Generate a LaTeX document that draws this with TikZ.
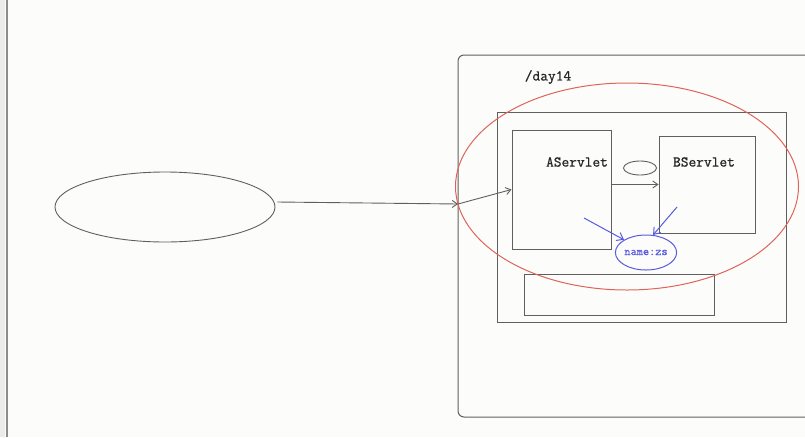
\documentclass[tikz,border=0pt]{standalone}
\usepackage{fontspec}
\newfontfamily\mytt{Latin Modern Mono}[FakeBold=0.8]
\usetikzlibrary{arrows.meta,shapes.geometric,calc}
\definecolor{bg}{RGB}{252,253,251}
\definecolor{ln}{RGB}{95,95,95}
\definecolor{redl}{RGB}{222,100,90}
\definecolor{bluel}{RGB}{90,90,225}
\begin{document}
\begin{tikzpicture}[x=1pt,y=-1pt,
  box/.style={draw=ln,line width=1pt,rectangle,inner sep=0pt},
  oval/.style={draw=ln,line width=0.9pt,ellipse,inner sep=0pt},
  lab/.style={font=\mytt\bfseries\fontsize{15}{15}\selectfont,text=black!85,inner sep=0pt},
  tip/.style={-{Straight Barb[length=5pt,width=7pt]}},
  conn/.style={draw=ln,line width=0.9pt,tip}]
\useasboundingbox (0,0) rectangle (805,437);
\fill[bg] (0,0) rectangle (805,437);
\fill[black!8] (0,0) rectangle (5,437);
\draw[black!45,line width=2pt] (6.5,0) -- (6.5,437);
% outer rounded box (open on the right)
\draw[ln,line width=1pt,rounded corners=6pt] (806,55) -- (458,55) -- (458,417) -- (806,417);
\node[lab] (day) at (548,77) {/day14};
% nodes
\node[oval,minimum width=220,minimum height=70] (client) at (165,207) {};
\node[box,minimum width=289,minimum height=210] (app) at (641.5,217) {};
\node[box,minimum width=99,minimum height=119] (A) at (561.5,189.5) {};
\node[lab] (Alab) at (577,162) {AServlet};
\node[box,minimum width=96,minimum height=97] (B) at (707,184.5) {};
\node[lab] (Blab) at (704,162) {BServlet};
\node[oval,minimum width=33,minimum height=14] (req) at (640,168) {};
\node[box,minimum width=190,minimum height=41] (bottom) at (619,295) {};
\node[draw=bluel,line width=1pt,ellipse,inner sep=0pt,minimum width=58,minimum height=35,
      font=\mytt\bfseries\fontsize{12}{12}\selectfont,text=bluel] (zs) at (646,252.5) {name:zs};
\node[draw=redl,line width=1pt,ellipse,inner sep=0pt,minimum width=343,minimum height=207] (ctx) at (627,186.5) {};
% connectors
\coordinate (j) at (458,204);
\draw[conn] ($(client.east)+(2,-5)$) -- (j);
\draw[conn] (j) -- (A.west);
\draw[conn] (A.east |- B.west) -- (B.west);
\coordinate (b1) at (584,218);
\coordinate (b2) at (677,207);
\draw[draw=bluel,line width=1pt,-{Straight Barb[length=6pt,width=9pt]}] (b1) -- (zs.north west);
\draw[draw=bluel,line width=1pt,-{Straight Barb[length=6pt,width=9pt]}] (b2) -- (zs.68);
\end{tikzpicture}
\end{document}
